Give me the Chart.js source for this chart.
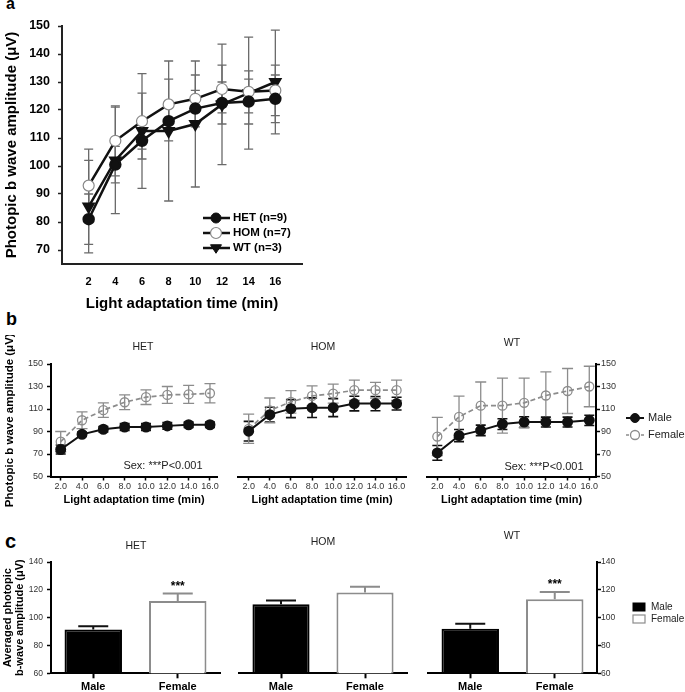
<!DOCTYPE html>
<html><head><meta charset="utf-8">
<script src="https://cdn.jsdelivr.net/npm/chart.js@4/dist/chart.umd.min.js"></script>
<style>
html,body{margin:0;padding:0;background:#fff;}
#fig{position:relative;width:685px;height:692px;overflow:hidden;background:#fff;}
.lbl{position:absolute;font-family:"Liberation Sans",Arial,Helvetica,sans-serif;font-weight:bold;line-height:1;color:#000;}
canvas{position:absolute;}
</style></head><body>
<div id="fig">
<div class="lbl" style="left:6px;top:-4px;font-size:16px">a</div>
<div class="lbl" style="left:6px;top:310px;font-size:18px">b</div>
<div class="lbl" style="left:5px;top:531px;font-size:20px">c</div>
</div>
<script>
// ---------------- data ----------------
const timeA = [2, 4, 6, 8, 10, 12, 14, 16];
const hetA = [81, 100.5, 109, 116, 120.5, 122.5, 123, 124];
const hetAErr = [9, 6.5, 6.5, 7, 6.5, 7.5, 8, 8.5];
const homA = [93, 109, 116, 122, 124, 127.5, 126.5, 127];
const homAErr = [13, 12.5, 10, 9, 8.5, 8.5, 7.5, 9];
const wtA = [85.5, 102, 112.5, 112.5, 115, 122, 126, 130];
const wtAErr = [16.5, 19, 20.5, 25, 22.5, 21.5, 20, 18.5];
const yTicksA = [70, 80, 90, 100, 110, 120, 130, 140, 150];

const timeB = [2, 4, 6, 8, 10, 12, 14, 16];
const hetMaleB = [74, 87.5, 92, 94, 94, 95, 96, 96];
const hetMaleBErr = [4, 2, 2.5, 3, 3, 3, 2.5, 2.5];
const hetFemaleB = [81, 100, 109, 116, 120.5, 122.5, 123, 124];
const hetFemaleBErr = [9, 7.5, 6.5, 6.5, 6.5, 7.5, 8, 8.5];
const homMaleB = [90.3, 105, 110.3, 111.2, 111.2, 114.8, 114.8, 114.8];
const homMaleBErr = [8.7, 6.5, 8, 8.7, 8, 6.5, 6.3, 5.7];
const homFemaleB = [92.4, 108.8, 116.3, 121.6, 123.7, 126.7, 126.7, 126.7];
const homFemaleBErr = [13, 11, 10, 9, 8.4, 9, 7, 9];
const wtMaleB = [71, 86.4, 91, 96.6, 98.4, 98.4, 98.4, 99.9];
const wtMaleBErr = [6.5, 5.4, 4.7, 4.8, 4.7, 4.4, 4.4, 4.5];
const wtFemaleB = [85.5, 103, 113, 113, 115.5, 122, 126, 130];
const wtFemaleBErr = [17, 18.5, 21, 24.5, 22, 21, 20, 18];
const yTicksB = [50, 70, 90, 110, 130, 150];

const sexCats = ['Male', 'Female'];
const hetC = [91.5, 112];
const hetCErr = [2.4, 5.3];
const homC = [109.7, 118.1];
const homCErr = [2.6, 4.2];
const wtC = [92.1, 113.3];
const wtCErr = [3.6, 5.2];
const yTicksC = [60, 80, 100, 120, 140];

// ---------------- setup ----------------
const FONT = '"Liberation Sans", Arial, Helvetica, sans-serif';
Chart.defaults.font.family = FONT;
Chart.defaults.color = '#000';
Chart.defaults.animation = false;
Chart.defaults.responsive = false;
Chart.defaults.maintainAspectRatio = false;
Chart.defaults.plugins.legend.display = false;
Chart.defaults.plugins.tooltip.enabled = false;

function cv(box){
  const c = document.createElement('canvas');
  c.width = box.w; c.height = box.h;
  c.style.left = box.x + 'px'; c.style.top = box.y + 'px';
  c.style.width = box.w + 'px'; c.style.height = box.h + 'px';
  document.getElementById('fig').appendChild(c);
  return c;
}
function fit(size){
  return s => {
    if (s.isHorizontal()) s.height = size; else s.width = size;
    s.paddingLeft = 0; s.paddingRight = 0; s.paddingTop = 0; s.paddingBottom = 0;
  };
}
function geom(box, area, yPos){
  const pad = {top: area.t - box.y, bottom: 0, left: 0, right: 0};
  let yW = 0;
  if (yPos === 'left') yW = area.l - box.x; else pad.left = area.l - box.x;
  if (yPos === 'right') yW = box.x + box.w - area.r; else pad.right = box.x + box.w - area.r;
  return {pad, yW, xH: box.y + box.h - area.b};
}
function rel(box, items){ return items.map(o => Object.assign({}, o, {x: o.x - box.x, y: o.y - box.y, x1: o.x1 != null ? o.x1 - box.x : undefined, mx: o.mx != null ? o.mx - box.x : undefined, tx: o.tx != null ? o.tx - box.x : undefined})); }
function pts(xs, ys){ return xs.map((x, i) => ({x: x, y: ys[i]})); }

function drawMarker(ctx, m, x, y){
  ctx.save();
  ctx.lineWidth = m.lw || 1;
  ctx.strokeStyle = m.stroke; ctx.fillStyle = m.fill;
  ctx.setLineDash([]);
  ctx.beginPath();
  if (m.style === 'triangleDown'){
    const r = m.r;
    ctx.moveTo(x - r * 1.1, y - r * 0.65);
    ctx.lineTo(x + r * 1.1, y - r * 0.65);
    ctx.lineTo(x, y + r * 1.05);
    ctx.closePath();
  } else {
    ctx.arc(x, y, m.r, 0, Math.PI * 2);
  }
  if (m.fill && m.fill !== 'none') ctx.fill();
  ctx.stroke();
  ctx.restore();
}

const errPlugin = {
  id: 'errbars',
  beforeDatasetsDraw(chart){
    const ctx = chart.ctx;
    chart.data.datasets.forEach((ds, di) => {
      if (!ds.errors) return;
      const meta = chart.getDatasetMeta(di);
      const ys = chart.scales[meta.yAxisID];
      meta.data.forEach((el, i) => {
        const raw = ds.data[i];
        const v = (typeof raw === 'object') ? raw.y : raw;
        const e = ds.errors[i];
        const col = Array.isArray(ds.errColor) ? ds.errColor[i] : ds.errColor;
        const yTop = ys.getPixelForValue(v + e);
        const yBot = ds.errUpOnly ? ys.getPixelForValue(v) : ys.getPixelForValue(v - e);
        const x = el.x, h = ds.capHalf;
        ctx.save();
        ctx.strokeStyle = col; ctx.lineWidth = ds.errWidth; ctx.setLineDash([]);
        ctx.beginPath();
        ctx.moveTo(x, yTop); ctx.lineTo(x, yBot);
        ctx.moveTo(x - h, yTop); ctx.lineTo(x + h, yTop);
        if (!ds.errUpOnly){ ctx.moveTo(x - h, yBot); ctx.lineTo(x + h, yBot); }
        ctx.stroke();
        if (ds.stars && ds.stars[i]){
          ctx.fillStyle = '#000';
          ctx.font = 'bold 12px ' + FONT;
          ctx.textAlign = 'center'; ctx.textBaseline = 'middle';
          ctx.fillText(ds.stars[i], x, yTop - 7);
        }
        ctx.restore();
      });
    });
  }
};
const textPlugin = {
  id: 'texts',
  afterDraw(chart, args, opts){
    const ctx = chart.ctx;
    (opts.items || []).forEach(t => {
      ctx.save();
      ctx.font = t.font; ctx.fillStyle = t.color || '#000';
      ctx.textAlign = t.align || 'center'; ctx.textBaseline = 'middle';
      ctx.fillText(t.text, t.x, t.y);
      ctx.restore();
    });
  }
};
const legendPlugin = {
  id: 'keys',
  afterDraw(chart, args, opts){
    const ctx = chart.ctx;
    (opts.items || []).forEach(it => {
      ctx.save();
      if (it.type === 'line'){
        ctx.strokeStyle = it.color; ctx.lineWidth = it.width;
        ctx.setLineDash(it.dash || []);
        ctx.beginPath(); ctx.moveTo(it.x, it.y); ctx.lineTo(it.x1, it.y); ctx.stroke();
        drawMarker(ctx, it.marker, it.mx, it.y);
      } else {
        ctx.fillStyle = it.fill; ctx.strokeStyle = it.stroke; ctx.lineWidth = it.lw;
        ctx.fillRect(it.x, it.y - it.h / 2, it.w, it.h);
        ctx.strokeRect(it.x, it.y - it.h / 2, it.w, it.h);
      }
      ctx.fillStyle = it.tcolor || '#000';
      ctx.font = it.font; ctx.textAlign = 'left'; ctx.textBaseline = 'middle';
      ctx.fillText(it.text, it.tx, it.y);
      ctx.restore();
    });
  }
};
Chart.register(errPlugin, textPlugin, legendPlugin);

// ---------------- panel a ----------------
(function(){
  const box = {x: 0, y: 0, w: 340, h: 320}, area = {l: 62, t: 26, r: 302, b: 264};
  const g = geom(box, area, 'left');
  const base = {borderColor: '#111', borderWidth: 2.5, tension: 0, errColor: '#6a6a6a', errWidth: 1.3, capHalf: 4.5};
  new Chart(cv(box), {
    type: 'line',
    data: {datasets: [
      Object.assign({label: 'HET (n=9)', data: pts(timeA, hetA), errors: hetAErr, pointStyle: 'circle', pointRadius: 5, pointBackgroundColor: '#111', pointBorderColor: '#111'}, base),
      Object.assign({label: 'HOM (n=7)', data: pts(timeA, homA), errors: homAErr, pointStyle: 'circle', pointRadius: 5.5, pointBackgroundColor: '#fff', pointBorderColor: '#888', pointBorderWidth: 1.2}, base),
      Object.assign({label: 'WT (n=3)', data: pts(timeA, wtA), errors: wtAErr, pointStyle: 'triangle', rotation: 180, pointRadius: 5.5, pointBackgroundColor: '#111', pointBorderColor: '#111'}, base)
    ]},
    options: {
      layout: {padding: g.pad},
      scales: {
        x: {type: 'linear', min: 0, max: 18,
          afterBuildTicks: s => { s.ticks = timeA.map(v => ({value: v})); },
          afterFit: fit(g.xH),
          border: {display: true, color: '#222', width: 2},
          grid: {drawOnChartArea: false, drawTicks: false},
          ticks: {font: {size: 11, weight: 'bold'}, color: '#000', padding: 11, maxRotation: 0, autoSkip: false},
          title: {display: true, text: 'Light adaptation time (min)', font: {size: 15, weight: 'bold'}, color: '#000', padding: {top: 0, bottom: 7}}
        },
        y: {type: 'linear', min: 65, max: 150,
          afterBuildTicks: s => { s.ticks = yTicksA.map(v => ({value: v})); },
          afterFit: fit(g.yW),
          border: {display: true, color: '#222', width: 2},
          grid: {drawOnChartArea: false, drawTicks: true, tickLength: 4, tickWidth: 1.5, tickColor: '#222'},
          ticks: {font: {size: 12.5, weight: 'bold'}, color: '#000', padding: 8},
          title: {display: true, text: 'Photopic b wave amplitude (μV)', font: {size: 15, weight: 'bold'}, color: '#000', padding: {top: 2.5, bottom: 0}}
        }
      },
      plugins: {
        keys: {items: rel(box, [
          {type: 'line', x: 203, x1: 230, y: 218, mx: 216, color: '#111', width: 2.5, marker: {style: 'circle', r: 5, fill: '#111', stroke: '#111'}, text: 'HET (n=9)', tx: 233, font: 'bold 11.5px ' + FONT},
          {type: 'line', x: 203, x1: 230, y: 233, mx: 216, color: '#111', width: 2.5, marker: {style: 'circle', r: 5.5, fill: '#fff', stroke: '#888', lw: 1.2}, text: 'HOM (n=7)', tx: 233, font: 'bold 11.5px ' + FONT},
          {type: 'line', x: 203, x1: 230, y: 248, mx: 216, color: '#111', width: 2.5, marker: {style: 'triangleDown', r: 5, fill: '#111', stroke: '#111'}, text: 'WT (n=3)', tx: 233, font: 'bold 11.5px ' + FONT}
        ])}
      }
    }
  });
})();

// ---------------- panel b ----------------
function makeB(box, area, xr, male, maleErr, female, femaleErr, yPos, texts, legend){
  const g = geom(box, area, yPos);
  new Chart(cv(box), {
    type: 'line',
    data: {datasets: [
      {label: 'Male', data: pts(timeB, male), errors: maleErr, errColor: '#111', errWidth: 1.6, capHalf: 5,
        borderColor: '#111', borderWidth: 2, tension: 0, pointRadius: 4.5, pointBackgroundColor: '#111', pointBorderColor: '#111'},
      {label: 'Female', data: pts(timeB, female), errors: femaleErr, errColor: '#8c8c8c', errWidth: 1.3, capHalf: 5.5,
        borderColor: '#8c8c8c', borderWidth: 1.7, borderDash: [5, 3], tension: 0, pointRadius: 4.5, pointBackgroundColor: 'rgba(255,255,255,0)', pointBorderColor: '#8c8c8c', pointBorderWidth: 1.3}
    ]},
    options: {
      layout: {padding: g.pad},
      scales: {
        x: {type: 'linear', min: xr[0], max: xr[1],
          afterBuildTicks: s => { s.ticks = timeB.map(v => ({value: v})); },
          afterFit: fit(g.xH),
          border: {display: true, color: '#000', width: 2},
          grid: {drawOnChartArea: false, drawTicks: true, tickLength: 4, tickWidth: 1.5, tickColor: '#000'},
          ticks: {font: {size: 9}, color: '#333', padding: 1, maxRotation: 0, autoSkip: false, callback: v => Number(v).toFixed(1)},
          title: {display: true, text: 'Light adaptation time (min)', font: {size: 11, weight: 'bold'}, color: '#000', padding: {top: 0, bottom: 3}}
        },
        y: {type: 'linear', position: yPos || 'left', display: !!yPos, min: 50, max: 150,
          afterBuildTicks: s => { s.ticks = yTicksB.map(v => ({value: v})); },
          afterFit: fit(g.yW),
          border: {display: true, color: '#000', width: 2},
          grid: {drawOnChartArea: false, drawTicks: true, tickLength: 4, tickWidth: 1.5, tickColor: '#000'},
          ticks: {font: {size: 9}, color: '#333', padding: yPos === 'left' ? 4 : 1},
          title: yPos === 'left' ? {display: true, text: 'Photopic b wave amplitude (μV)', font: {size: 11.5, weight: 'bold'}, color: '#000', padding: {top: 3, bottom: 0}} : {display: false}
        }
      },
      plugins: {texts: {items: rel(box, texts)}, keys: {items: rel(box, legend || [])}}
    }
  });
}
const tFont = '10.5px ' + FONT, sFont = '11px ' + FONT;
makeB({x: 0, y: 335, w: 228, h: 175}, {l: 51, t: 364, r: 217, b: 476.5}, [1.09, 16.66],
  hetMaleB, hetMaleBErr, hetFemaleB, hetFemaleBErr, 'left',
  [{text: 'HET', x: 143, y: 347, font: tFont, color: '#222'}, {text: 'Sex: ***P<0.001', x: 163, y: 466, font: sFont, color: '#222'}]);
makeB({x: 228, y: 335, w: 192, h: 175}, {l: 238, t: 364, r: 406, b: 476.5}, [0.99, 16.89],
  homMaleB, homMaleBErr, homFemaleB, homFemaleBErr, null,
  [{text: 'HOM', x: 323, y: 347, font: tFont, color: '#222'}]);
makeB({x: 420, y: 335, w: 265, h: 175}, {l: 427, t: 364, r: 596, b: 476.5}, [1.05, 16.62],
  wtMaleB, wtMaleBErr, wtFemaleB, wtFemaleBErr, 'right',
  [{text: 'WT', x: 512, y: 343, font: tFont, color: '#222'}, {text: 'Sex: ***P<0.001', x: 544, y: 467, font: sFont, color: '#222'}],
  [{type: 'line', x: 626, x1: 644, y: 418, mx: 635, color: '#111', width: 2, marker: {style: 'circle', r: 4.5, fill: '#111', stroke: '#111'}, text: 'Male', tx: 648, font: '11px ' + FONT, tcolor: '#222'},
   {type: 'line', x: 626, x1: 644, y: 435, mx: 635, color: '#8c8c8c', width: 1.5, dash: [3, 2], marker: {style: 'circle', r: 4.5, fill: '#fff', stroke: '#8c8c8c', lw: 1.3}, text: 'Female', tx: 648, font: '11px ' + FONT, tcolor: '#222'}]);

// ---------------- panel c ----------------
function makeC(box, area, vals, errs, stars, yPos, texts, legend){
  const g = geom(box, area, yPos);
  new Chart(cv(box), {
    type: 'bar',
    data: {labels: sexCats, datasets: [
      {label: 'Averaged', data: vals, errors: errs, errUpOnly: true, stars: stars,
        errColor: ['#111', '#8c8c8c'], errWidth: 2, capHalf: 15,
        backgroundColor: ['#000', '#fff'], borderColor: ['#000', '#8c8c8c'], borderWidth: 2,
        barPercentage: 0.68, categoryPercentage: 1}
    ]},
    options: {
      layout: {padding: g.pad},
      scales: {
        x: {afterFit: fit(g.xH),
          border: {display: true, color: '#000', width: 2},
          grid: {offset: false, drawOnChartArea: false, drawTicks: true, tickLength: 5, tickWidth: 2, tickColor: '#000'},
          ticks: {font: {size: 11, weight: 'bold'}, color: '#000', padding: 2, maxRotation: 0}
        },
        y: {type: 'linear', position: yPos || 'left', display: !!yPos, min: 60, max: 140,
          afterBuildTicks: s => { s.ticks = yTicksC.map(v => ({value: v})); },
          afterFit: fit(g.yW),
          border: {display: true, color: '#000', width: 2},
          grid: {drawOnChartArea: false, drawTicks: true, tickLength: 4, tickWidth: 1.5, tickColor: '#000'},
          ticks: {font: {size: 8.5}, color: '#333', padding: yPos === 'left' ? 4 : 0},
          title: yPos === 'left' ? {display: true, text: ['Averaged photopic', 'b-wave amplitude (μV)'], font: {size: 11, weight: 'bold', lineHeight: 1.07}, color: '#000', padding: {top: 2.5, bottom: 0}} : {display: false}
        }
      },
      plugins: {texts: {items: rel(box, texts)}, keys: {items: rel(box, legend || [])}}
    }
  });
}
makeC({x: 0, y: 525, w: 228, h: 167}, {l: 51, t: 562, r: 220, b: 673.3}, hetC, hetCErr, ['', '***'], 'left',
  [{text: 'HET', x: 136, y: 546, font: tFont, color: '#222'}]);
makeC({x: 228, y: 525, w: 187, h: 167}, {l: 239, t: 562, r: 407, b: 673.3}, homC, homCErr, ['', ''], null,
  [{text: 'HOM', x: 323, y: 542, font: tFont, color: '#222'}]);
makeC({x: 415, y: 525, w: 270, h: 167}, {l: 428, t: 562, r: 597, b: 673.3}, wtC, wtCErr, ['', '***'], 'right',
  [{text: 'WT', x: 512, y: 536, font: tFont, color: '#222'}],
  [{type: 'box', x: 633, y: 607, w: 12, h: 8, fill: '#000', stroke: '#000', lw: 1, text: 'Male', tx: 651, font: '10px ' + FONT, tcolor: '#222'},
   {type: 'box', x: 633, y: 619, w: 12, h: 8, fill: '#fff', stroke: '#8c8c8c', lw: 1.2, text: 'Female', tx: 651, font: '10px ' + FONT, tcolor: '#222'}]);
</script>
</body></html>
